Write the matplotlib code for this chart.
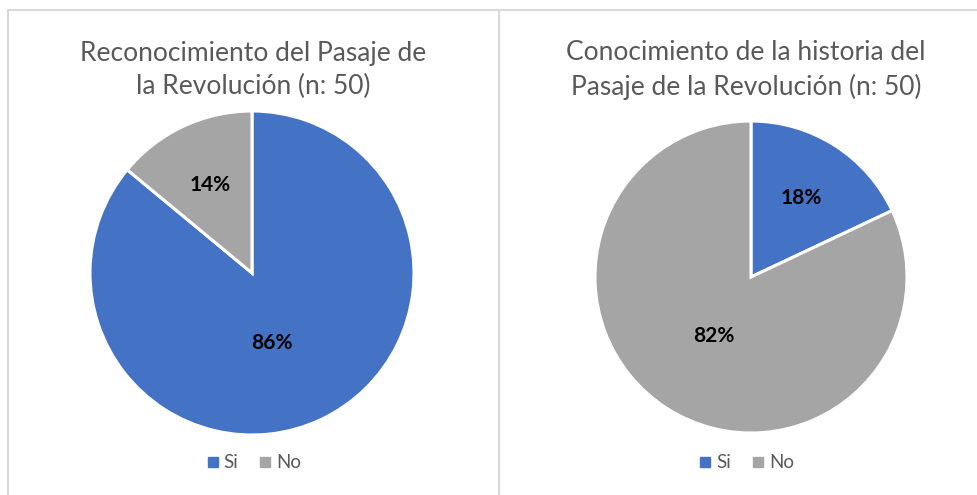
import numpy as np
import matplotlib
matplotlib.use('Agg')
import matplotlib.pyplot as plt
from matplotlib.lines import Line2D

plt.rcParams['font.family'] = ['Lato', 'DejaVu Sans']

labels = ['Si', 'No']
colors = ['#4472C4', '#A5A5A5']
titles = ['Reconocimiento del Pasaje de\nla Revolución (n: 50)',
          'Conocimiento de la historia del\nPasaje de la Revolución (n: 50)']
reconocimiento = [86, 14]
conocimiento_historia = [18, 82]

W, H = 978, 495
fig = plt.figure(figsize=(W / 100, H / 100), dpi=100)


def px_axes(cx, cy, r):
    return fig.add_axes([(cx - r) / W, (H - cy - r) / H, 2 * r / W, 2 * r / H])


def draw_pie(ax, values, title, title_x, title_y, legend_y, turn=0):
    wedges, _, autotexts = ax.pie(values, colors=colors, startangle=90, counterclock=False,
                                  autopct='%1.0f%%', pctdistance=0.6,
                                  wedgeprops=dict(edgecolor='white', linewidth=2.2),
                                  textprops=dict(fontsize=15, fontweight='bold', color='black'))
    # big slice label sits closer to the centre (Excel best fit)
    for w, t, v in zip(wedges, autotexts, values):
        mid = (w.theta1 + w.theta2) / 2
        if v > 50:
            mid += turn
        ang = np.deg2rad(mid)
        d = 0.45 if v > 50 else 0.6
        t.set_position((d * np.cos(ang), d * np.sin(ang)))
    ax.set_xlim(-1, 1)
    ax.set_ylim(-1, 1)
    ax.set_aspect('equal')
    for w in wedges:
        w.set_clip_on(False)
    fig.text(title_x / W, 1 - title_y / H, title, ha='center', va='center',
             fontsize=19, color='#595959', linespacing=1.38)
    handles = [Line2D([], [], marker='s', linestyle='', markersize=7, color=c) for c in colors]
    fig.legend(handles, labels, loc='center', bbox_to_anchor=(title_x / W, 1 - legend_y / H),
               ncol=2, frameon=False, fontsize=13.5, labelcolor='#595959',
               handletextpad=0.2, columnspacing=1.0, handlelength=0.8)


ax1 = px_axes(252, 273, 162)
draw_pie(ax1, reconocimiento, titles[0], 253, 70, 463, turn=-9)

ax2 = px_axes(751, 277, 156)
draw_pie(ax2, conocimiento_historia, titles[1], 746, 70, 463)

# panel borders
border = dict(color='#D9D9D9', linewidth=1.5, transform=fig.transFigure)
fig.add_artist(Line2D([8 / W, 1], [1 - 10 / H, 1 - 10 / H], **border))
fig.add_artist(Line2D([8 / W, 8 / W], [0, 1 - 10 / H], **border))
fig.add_artist(Line2D([499 / W, 499 / W], [0, 1 - 10 / H], **border))

fig.savefig('out.png', dpi=100)
